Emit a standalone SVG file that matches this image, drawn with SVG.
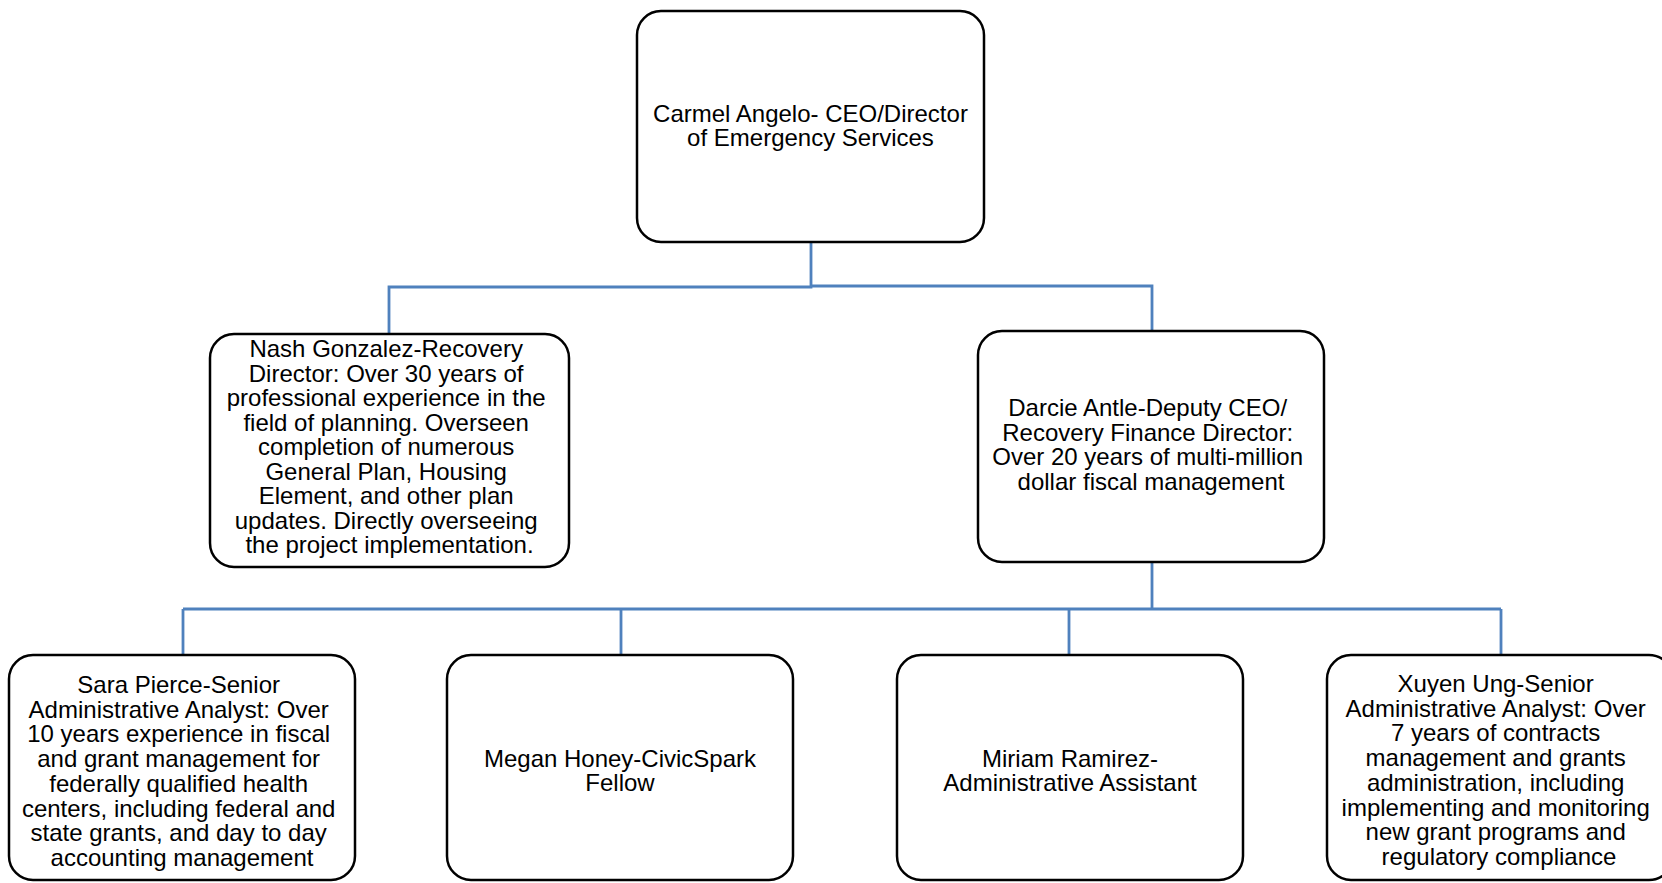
<svg xmlns="http://www.w3.org/2000/svg" width="1662" height="883" viewBox="0 0 1662 883">
<style>
.box{fill:#fff;stroke:#000;stroke-width:2.5}
.t{font-family:"Liberation Sans",Arial,sans-serif;font-size:24px;fill:#000;text-anchor:middle}
.c{fill:none;stroke:#4F81BD;stroke-width:2.8}
</style>
<rect width="1662" height="883" fill="#fff"/>
<g id="connectors">
<polyline class="c" points="811,242 811,287 389,287 389,333"/>
<polyline class="c" points="811,286 1152,286 1152,331"/>
<line class="c" x1="1152" y1="562" x2="1152" y2="609"/>
<line class="c" x1="183" y1="609" x2="1501" y2="609"/>
<line class="c" x1="183" y1="609" x2="183" y2="655"/>
<line class="c" x1="621" y1="609" x2="621" y2="655"/>
<line class="c" x1="1069" y1="609" x2="1069" y2="655"/>
<line class="c" x1="1501" y1="609" x2="1501" y2="655"/>
</g>
<g id="ceo">
<rect class="box" x="637" y="11" width="347" height="231" rx="24"/>
<text class="t"><tspan x="810.5" y="122">Carmel Angelo- CEO/Director</tspan><tspan x="810.5" y="146">of Emergency Services</tspan></text>
</g>
<g id="nash">
<rect class="box" x="210" y="334" width="359" height="233" rx="24"/>
<text class="t">
<tspan x="389.5" y="357">Nash Gonzalez-Recovery</tspan>
<tspan x="389.5" y="381.5">Director: Over 30 years of</tspan>
<tspan x="389.5" y="406">professional experience in the</tspan>
<tspan x="389.5" y="430.5">field of planning. Overseen</tspan>
<tspan x="389.5" y="455">completion of numerous</tspan>
<tspan x="389.5" y="479.5">General Plan, Housing</tspan>
<tspan x="389.5" y="504">Element, and other plan</tspan>
<tspan x="389.5" y="528.5">updates. Directly overseeing</tspan>
<tspan x="389.5" y="553">the project implementation.</tspan>
</text>
</g>
<g id="darcie">
<rect class="box" x="978" y="331" width="346" height="231" rx="24"/>
<text class="t">
<tspan x="1151" y="416">Darcie Antle-Deputy CEO/</tspan>
<tspan x="1151" y="440.5">Recovery Finance Director:</tspan>
<tspan x="1151" y="465">Over 20 years of multi-million</tspan>
<tspan x="1151" y="489.5">dollar fiscal management</tspan>
</text>
</g>
<g id="sara">
<rect class="box" x="9" y="655" width="346" height="225" rx="24"/>
<text class="t">
<tspan x="182" y="693">Sara Pierce-Senior</tspan>
<tspan x="182" y="717.7">Administrative Analyst: Over</tspan>
<tspan x="182" y="742.4">10 years experience in fiscal</tspan>
<tspan x="182" y="767.1">and grant management for</tspan>
<tspan x="182" y="791.8">federally qualified health</tspan>
<tspan x="182" y="816.5">centers, including federal and</tspan>
<tspan x="182" y="841.2">state grants, and day to day</tspan>
<tspan x="182" y="865.9">accounting management</tspan>
</text>
</g>
<g id="megan">
<rect class="box" x="447" y="655" width="346" height="225" rx="24"/>
<text class="t"><tspan x="620" y="767">Megan Honey-CivicSpark</tspan><tspan x="620" y="791">Fellow</tspan></text>
</g>
<g id="miriam">
<rect class="box" x="897" y="655" width="346" height="225" rx="24"/>
<text class="t"><tspan x="1070" y="767">Miriam Ramirez-</tspan><tspan x="1070" y="791">Administrative Assistant</tspan></text>
</g>
<g id="xuyen">
<rect class="box" x="1327" y="655" width="346" height="225" rx="24"/>
<text class="t">
<tspan x="1499" y="692">Xuyen Ung-Senior</tspan>
<tspan x="1499" y="716.7">Administrative Analyst: Over</tspan>
<tspan x="1499" y="741.4">7 years of contracts</tspan>
<tspan x="1499" y="766.1">management and grants</tspan>
<tspan x="1499" y="790.8">administration, including</tspan>
<tspan x="1499" y="815.5">implementing and monitoring</tspan>
<tspan x="1499" y="840.2">new grant programs and</tspan>
<tspan x="1499" y="864.9">regulatory compliance</tspan>
</text>
</g>
</svg>
